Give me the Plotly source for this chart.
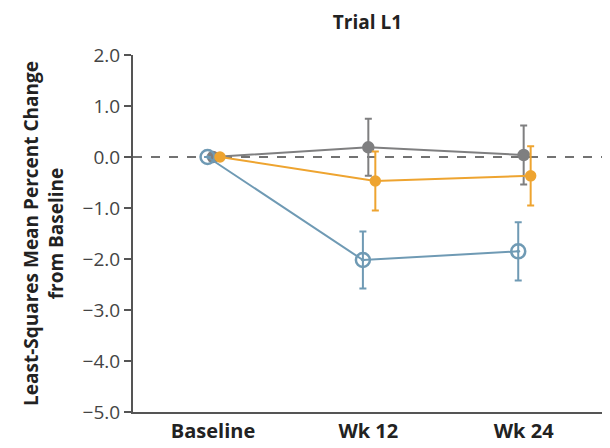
import plotly.graph_objects as go

categories = ["Baseline", "Wk 12", "Wk 24"]
cat_pos = [0, 1, 2]

series_names = ["Placebo", "Low dose", "High dose"]
gray_vals = [0.0, 0.19, 0.04]
gray_err = [0.0, 0.56, 0.58]
orange_vals = [0.0, -0.47, -0.37]
orange_err = [0.0, 0.58, 0.58]
blue_vals = [0.0, -2.02, -1.85]
blue_err = [0.0, 0.56, 0.57]

y_ticks = [2, 1, 0, -1, -2, -3, -4, -5]

GRAY = "#7f7f80"
ORANGE = "#eea430"
BLUE = "#6f9ab4"
FONT = "Open Sans"

fig = go.Figure()

def add_series(name, vals, errs, color, offset, symbol, size):
    fig.add_trace(go.Scatter(
        x=[c + offset for c in cat_pos], y=vals, name=name, mode="lines+markers",
        line=dict(color=color, width=2),
        marker=dict(color=color, size=size, symbol=symbol,
                    line=dict(color=color, width=2.5)),
        error_y=dict(type="data", array=errs, visible=True, color=color,
                     thickness=2, width=3.5),
        showlegend=False, cliponaxis=False,
    ))

add_series(series_names[0], gray_vals, gray_err, GRAY, 0.0, "circle", 10)
add_series(series_names[2], blue_vals, blue_err, BLUE, -0.035, "circle-open-dot", 14)
add_series(series_names[1], orange_vals, orange_err, ORANGE, 0.045, "circle", 9)

fig.add_shape(type="line", xref="paper", yref="y", x0=0, x1=1, y0=0, y1=0,
              line=dict(color="#444444", width=1.5, dash="dash"), layer="below")

fig.update_layout(
    width=602, height=440,
    margin=dict(l=125, r=4, t=47, b=36),
    paper_bgcolor="white", plot_bgcolor="white",
    font=dict(family=FONT, color="#333333", size=19),
    title=dict(text="<b>Trial L1</b>", x=0.597, xanchor="center", y=0.968, yanchor="middle",
               font=dict(family=FONT, size=19, color="#222222")),
    xaxis=dict(range=[-0.515, 2.53], tickmode="array", tickvals=cat_pos,
               ticktext=["<b>%s</b>" % c for c in categories],
               showline=True, linecolor="#555555", linewidth=2,
               ticks="", showgrid=False, zeroline=False,
               tickfont=dict(family=FONT, size=20, color="#222222")),
    yaxis=dict(range=[-5, 2], tickmode="array", tickvals=y_ticks,
               ticktext=[("%.1f" % v).replace("-", "\u2212") for v in y_ticks],
               showline=True, linecolor="#555555", linewidth=2,
               ticks="outside", ticklen=7, tickwidth=2, tickcolor="#555555",
               showgrid=False, zeroline=False,
               tickfont=dict(family=FONT, size=19, color="#444444"),
               title=dict(text="<b>Least-Squares Mean Percent Change<br>from Baseline</b>",
                          font=dict(family=FONT, size=19, color="#222222"), standoff=14)),
)

fig.write_html("out.html")
